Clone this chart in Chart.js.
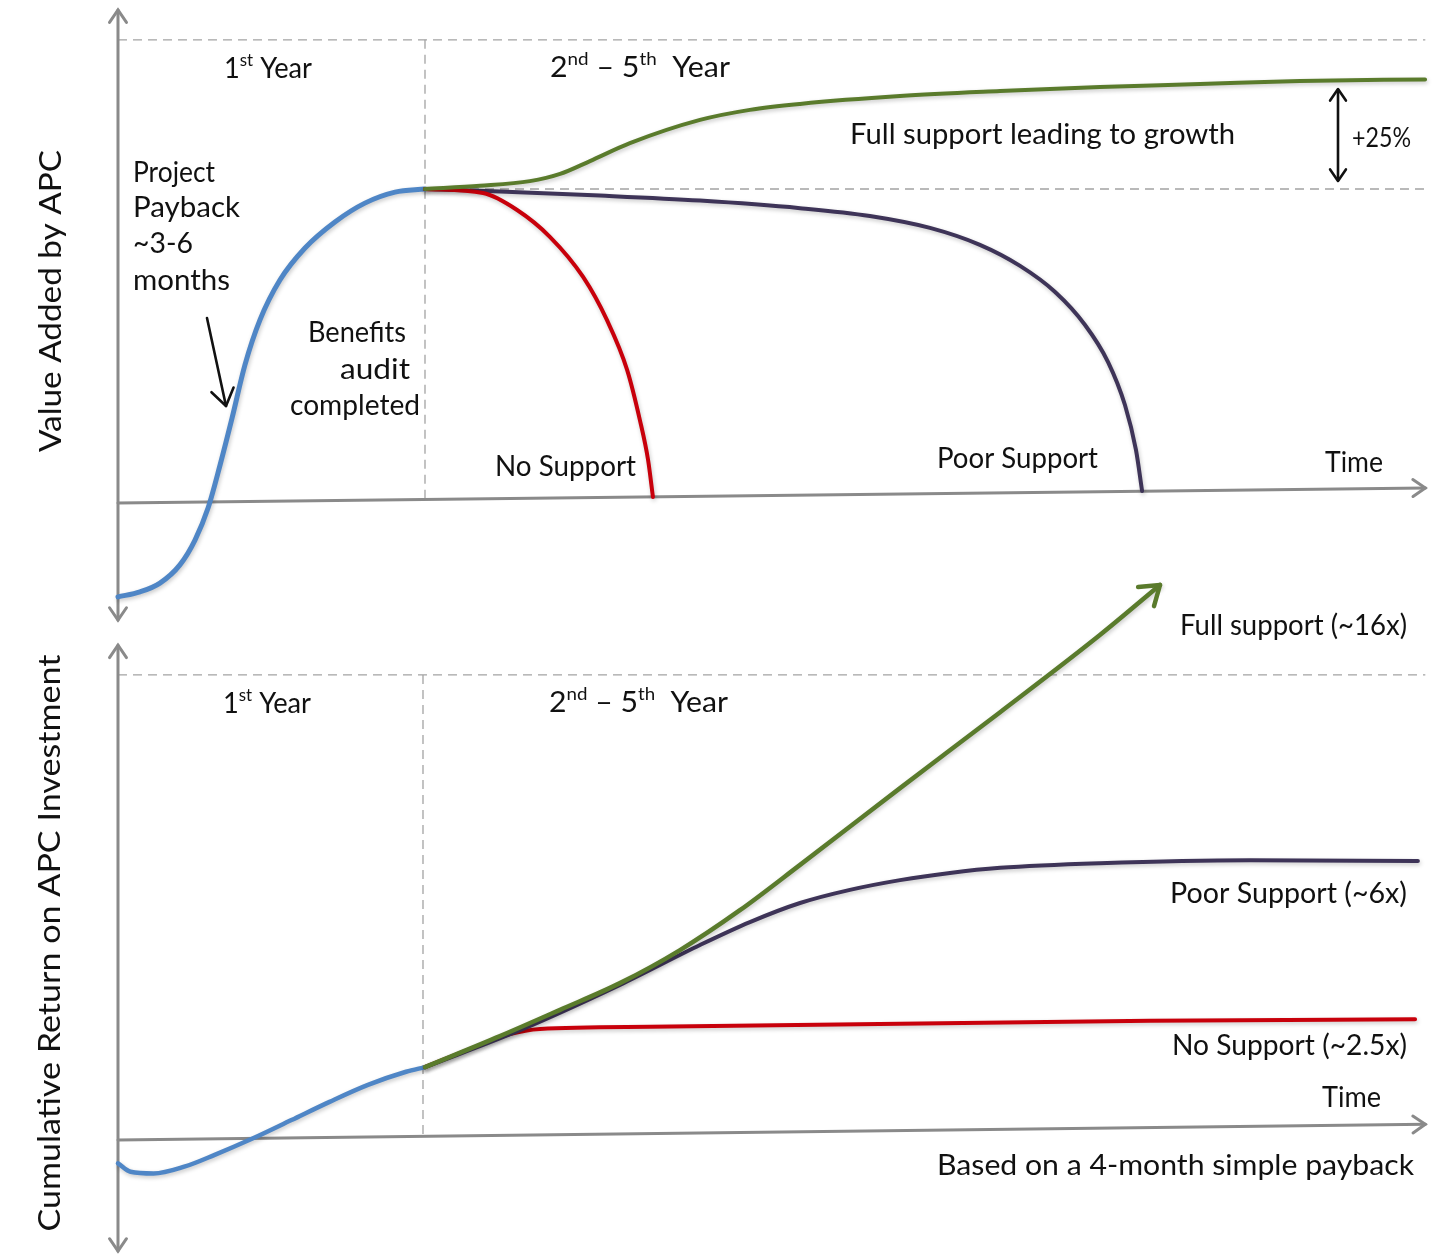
<!DOCTYPE html>
<html>
<head>
<meta charset="utf-8">
<script src="https://cdn.jsdelivr.net/npm/chart.js@4.4.1/dist/chart.umd.min.js"></script>
<style>
  html, body { margin: 0; padding: 0; background: #fff; }
  #wrap { position: relative; width: 1451px; height: 1255px; }
</style>
</head>
<body>
<div id="wrap"><canvas id="apcChart" width="1451" height="1255"></canvas></div>
<script>
// x = months since the APC project started
// top panel: value added by APC (audited benefit = 100)
const topYear1Months = [0, 0.86, 1.64, 2.42, 3.01, 3.52, 3.99, 4.46, 4.96, 5.55, 6.33, 7.31, 8.48, 9.65, 10.83, 12];
const topYear1Value  = [-29.9, -28.3, -25.5, -19.7, -11.8, -1.6, 12.1, 27.1, 43.9, 58.3, 71.0, 81.2, 89.5, 95.5, 99.0, 100];
const topFullMonths  = [12, 14.15, 16.1, 17.28, 18.45, 20.01, 22.75, 24.7, 26.66, 30.57, 34.48, 38.38, 42.29, 46.2, 51.09];
const topFullValue   = [100, 101, 102.5, 104.8, 108.9, 114.6, 122, 125.2, 127.1, 129.6, 131.2, 132.5, 133.4, 134.4, 134.9];
const topPoorMonths  = [12, 14.93, 18.84, 22.75, 26.66, 29.39, 31.74, 33.69, 35.26, 36.63, 37.8, 38.7, 39.36, 39.79, 40.03];
const topPoorValue   = [100, 99.2, 97.9, 96.3, 93.9, 91.4, 87.6, 82.2, 75.5, 67.2, 56.7, 44.9, 31.2, 16.9, 3.8];
const topNoneMonths  = [12, 14.27, 15.6, 16.89, 18.18, 19.11, 19.9, 20.4, 20.72, 20.91];
const topNoneValue   = [100, 98.7, 93.3, 84.7, 72.0, 58.3, 42.4, 26.4, 13.7, 1.9];

// bottom panel: cumulative return, in multiples of the APC investment
const botYear1Months = [0, 0.49, 1.39, 2.59, 3.78, 5.28, 6.78, 8.27, 9.77, 11.26, 12];
const botYear1Value  = [-0.55, -0.75, -0.79, -0.63, -0.35, 0.04, 0.47, 0.90, 1.30, 1.61, 1.72];
const botFullMonths  = [12, 14.93, 17.28, 19.62, 21.97, 24.31, 26.66, 30.57, 34.48, 38.38, 40.73];
const botFullValue   = [1.72, 2.45, 3.07, 3.70, 4.48, 5.42, 6.49, 8.30, 10.09, 11.91, 13.09];
const botPoorMonths  = [12, 15.71, 19.62, 22.75, 24.7, 26.66, 28.61, 30.57, 32.52, 34.48, 38.38, 44.25, 50.81];
const botPoorValue   = [1.72, 2.59, 3.66, 4.60, 5.14, 5.59, 5.90, 6.13, 6.30, 6.42, 6.53, 6.60, 6.58];
const botNoneMonths  = [12, 14.15, 15.32, 16.5, 20.8, 30.57, 40.34, 50.7];
const botNoneValue   = [1.72, 2.24, 2.50, 2.62, 2.67, 2.74, 2.81, 2.85];

// guide levels
const yearEnd = 12;
const axisEndMonth = 51.1;
const topCeiling = 147.5, topBaseline = 100, topAxisRise = 4.8;
const botCeiling = 10.97, botAxisRise = 0.37;

const BLUE = '#4f86c6', GREEN = '#5a7b2c', RED = '#c8000b', PURPLE = '#3e3458';
const FONT = 'Lato';

function pts(xs, ys) { return xs.map((m, i) => ({ x: m, y: ys[i] })); }

function series(xs, ys, color, axis, width) {
  return {
    data: pts(xs, ys), yAxisID: axis, borderColor: color, borderWidth: width || 4,
    pointRadius: 0, fill: false, cubicInterpolationMode: 'monotone', borderCapStyle: 'round'
  };
}

function seg(ctx, x1, y1, x2, y2) {
  ctx.beginPath(); ctx.moveTo(x1, y1); ctx.lineTo(x2, y2); ctx.stroke();
}

function head(ctx, tx, ty, ang, size) {
  ctx.beginPath();
  ctx.moveTo(tx - size * Math.cos(ang - 0.6), ty - size * Math.sin(ang - 0.6));
  ctx.lineTo(tx, ty);
  ctx.lineTo(tx - size * Math.cos(ang + 0.6), ty - size * Math.sin(ang + 0.6));
  ctx.stroke();
}

// text drawn then squeezed to the width it has in the sketch
function label(ctx, runs, x, y, width, opt) {
  opt = opt || {};
  const size = opt.size || 29;
  const sup = Math.round(size * 0.62);
  let natural = 0;
  runs.forEach(r => {
    const s = r[0] === '^';
    ctx.font = `${s ? sup : size}px ${FONT}`;
    natural += ctx.measureText(s ? r.slice(1) : r).width;
  });
  ctx.save();
  ctx.translate(opt.right ? x - width : x, y);
  ctx.scale(width / natural, 1);
  ctx.fillStyle = '#111';
  ctx.textBaseline = 'alphabetic';
  let cx = 0;
  runs.forEach(r => {
    const s = r[0] === '^';
    const t = s ? r.slice(1) : r;
    ctx.font = `${s ? sup : size}px ${FONT}`;
    ctx.fillText(t, cx, s ? -size * 0.4 : 0);
    cx += ctx.measureText(t).width;
  });
  ctx.restore();
}

function vlabel(ctx, text, bx, cy, width) {
  ctx.save();
  ctx.translate(bx, cy);
  ctx.rotate(-Math.PI / 2);
  label(ctx, [text], -width / 2, 0, width, { size: 31 });
  ctx.restore();
}

const sketch = {
  id: 'sketch',
  beforeDatasetsDraw(chart) {
    const { ctx, scales: { x, yTop, yBot } } = chart;
    const x0 = x.getPixelForValue(0), xy = x.getPixelForValue(yearEnd), xe = x.getPixelForValue(axisEndMonth);
    ctx.save();
    // dashed guides
    ctx.strokeStyle = '#a3a3a3'; ctx.lineWidth = 1.3; ctx.setLineDash([9, 6]);
    seg(ctx, x0, yTop.getPixelForValue(topCeiling), xe, yTop.getPixelForValue(topCeiling));
    seg(ctx, xy, yTop.getPixelForValue(topBaseline), xe, yTop.getPixelForValue(topBaseline));
    seg(ctx, xy, yTop.getPixelForValue(topCeiling), xy, yTop.getPixelForValue(0));
    seg(ctx, x0, yBot.getPixelForValue(botCeiling), xe, yBot.getPixelForValue(botCeiling));
    seg(ctx, xy - 2, yBot.getPixelForValue(botCeiling), xy - 2, yBot.getPixelForValue(0.1));
    ctx.setLineDash([]);
    // axes
    ctx.strokeStyle = '#8a8a8a'; ctx.lineWidth = 3; ctx.lineCap = 'round';
    const tA = yTop.getPixelForValue(157), tB = yTop.getPixelForValue(-37.3);
    seg(ctx, x0, tA, x0, tB);
    head(ctx, x0, tA, -Math.PI / 2, 15); head(ctx, x0, tB, Math.PI / 2, 15);
    const ty0 = yTop.getPixelForValue(0), ty1 = yTop.getPixelForValue(topAxisRise);
    seg(ctx, x0, ty0, xe, ty1);
    head(ctx, xe, ty1, Math.atan2(ty1 - ty0, xe - x0), 15);
    const bA = yBot.getPixelForValue(11.67), bB = yBot.getPixelForValue(-2.62);
    seg(ctx, x0, bA, x0, bB);
    head(ctx, x0, bA, -Math.PI / 2, 15); head(ctx, x0, bB, Math.PI / 2, 15);
    const by0 = yBot.getPixelForValue(0), by1 = yBot.getPixelForValue(botAxisRise);
    seg(ctx, x0, by0, xe, by1);
    head(ctx, xe, by1, Math.atan2(by1 - by0, xe - x0), 15);
    ctx.restore();
  },
  beforeDatasetDraw(chart) {
    const ctx = chart.ctx;
    ctx.save();
    ctx.shadowColor = 'rgba(0,0,0,0.22)'; ctx.shadowBlur = 4; ctx.shadowOffsetX = 1; ctx.shadowOffsetY = 2;
  },
  afterDatasetDraw(chart) { chart.ctx.restore(); },
  afterDatasetsDraw(chart) {
    const ctx = chart.ctx;
    ctx.save();
    // green arrowhead at the end of the full-support return line
    const m = chart.getDatasetMeta(4).data;
    const p1 = m[m.length - 2], p2 = m[m.length - 1];
    ctx.strokeStyle = GREEN; ctx.lineWidth = 4.5; ctx.lineCap = 'round'; ctx.lineJoin = 'round';
    head(ctx, p2.x, p2.y, Math.atan2(p2.y - p1.y, p2.x - p1.x), 22);

    // black callout arrows
    ctx.strokeStyle = '#111'; ctx.lineWidth = 2.6;
    seg(ctx, 207, 318, 226, 406);
    head(ctx, 226, 406, Math.atan2(88, 19), 20);
    seg(ctx, 1338, 90, 1338, 180);
    head(ctx, 1338, 89, -Math.PI / 2, 14); head(ctx, 1338, 181, Math.PI / 2, 14);

    // top panel text
    label(ctx, ['1', '^st', ' Year'], 224, 78, 88);
    label(ctx, ['2', '^nd', ' – 5', '^th', '  Year'], 550, 77, 180);
    label(ctx, ['Project'], 133, 182, 82);
    label(ctx, ['Payback'], 133, 217, 107);
    label(ctx, ['~3-6'], 133, 253, 60);
    label(ctx, ['months'], 133, 290, 97);
    label(ctx, ['Benefits'], 406, 342, 98, { right: true });
    label(ctx, ['audit'], 410, 379, 70, { right: true });
    label(ctx, ['completed'], 420, 415, 130, { right: true });
    label(ctx, ['No Support'], 495, 476, 141);
    label(ctx, ['Poor Support'], 937, 468, 161);
    label(ctx, ['Time'], 1325, 472, 58);
    label(ctx, ['Full support leading to growth'], 850, 144, 385);
    label(ctx, ['+25%'], 1352, 147, 59, { size: 27 });

    // bottom panel text
    label(ctx, ['1', '^st', ' Year'], 223, 713, 88);
    label(ctx, ['2', '^nd', ' – 5', '^th', '  Year'], 549, 712, 179);
    label(ctx, ['Full support (~16x)'], 1180, 635, 227);
    label(ctx, ['Poor Support (~6x)'], 1170, 903, 237);
    label(ctx, ['No Support (~2.5x)'], 1172, 1055, 235);
    label(ctx, ['Time'], 1322, 1107, 59);
    label(ctx, ['Based on a 4-month simple payback'], 937, 1175, 477);

    // axis titles
    vlabel(ctx, 'Value Added by APC', 61, 301, 302);
    vlabel(ctx, 'Cumulative Return on APC Investment', 60, 943, 577);
    ctx.restore();
  }
};

new Chart(document.getElementById('apcChart').getContext('2d'), {
  type: 'line',
  data: {
    datasets: [
      series(topFullMonths, topFullValue, GREEN, 'yTop'),
      series(topNoneMonths, topNoneValue, RED, 'yTop'),
      series(topPoorMonths, topPoorValue, PURPLE, 'yTop'),
      series(topYear1Months, topYear1Value, BLUE, 'yTop', 5),
      series(botFullMonths, botFullValue, GREEN, 'yBot', 4.5),
      series(botPoorMonths, botPoorValue, PURPLE, 'yBot'),
      series(botNoneMonths, botNoneValue, RED, 'yBot'),
      series(botYear1Months, botYear1Value, BLUE, 'yBot', 4.5)
    ]
  },
  options: {
    responsive: false,
    animation: false,
    events: [],
    layout: { padding: 0 },
    plugins: { legend: { display: false }, tooltip: { enabled: false } },
    scales: {
      x: { type: 'linear', min: -4.612, max: 52.104, display: false },
      yTop: { type: 'linear', min: -239.49, max: 160.19, display: false },
      yBot: { type: 'linear', min: -2.712, max: 26.887, display: false }
    }
  },
  plugins: [sketch]
});
</script>
</body>
</html>
